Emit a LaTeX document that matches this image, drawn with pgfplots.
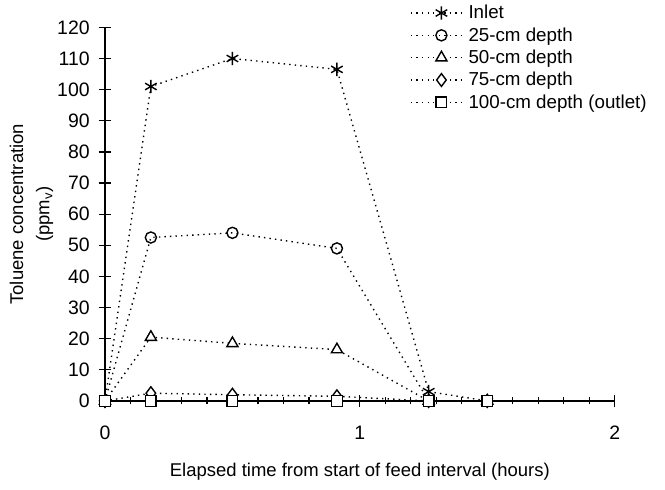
\documentclass[border=0pt]{standalone}
\usepackage{fontspec}
\setmainfont{Liberation Sans}
\usepackage{pgfplots}
\pgfplotsset{compat=1.18}

\begin{document}
\begin{tikzpicture}
\useasboundingbox (-75.6pt,-63.4pt) rectangle (403.2pt,288.7pt);
\begin{axis}[
  at={(0,0)}, anchor=origin,
  scale only axis, width=367pt, height=269pt,
  xmin=0, xmax=2, ymin=0, ymax=120,
  axis x line*=bottom, axis y line*=left,
  axis line style={line width=1.2pt},
  xtick={0,1,2}, minor x tick num=9,
  ytick={0,10,...,120},
  tick align=center,
  major tick length=9pt, minor tick length=5pt,
  every tick/.style={black, line width=0.9pt},
  /pgf/number format/assume math mode=true,
  tick label style={font=\fontsize{14}{16}\selectfont},
  xticklabel style={yshift=-10pt},
  yticklabel style={xshift=-3pt},
  xlabel={Elapsed time from start of feed interval (hours)},
  ylabel={Toluene concentration\\(ppm\textsubscript{v})},
  label style={font=\fontsize{13.3}{19}\selectfont, align=center},
  xlabel style={yshift=-10pt},
  ylabel style={yshift=-4pt},
  clip=false,
  every axis plot/.append style={black, line width=1pt, dash pattern=on 1pt off 3pt,
    mark size=4pt, mark options={solid, fill=white, line width=1pt}},
  legend style={draw=none, fill=none, at={(0.59,1.075)}, anchor=north west,
    font=\fontsize{13.5}{15}\selectfont, row sep=0.8pt,
    legend cell align=left},
  legend image code/.code={
    \draw[#1, mark repeat=2, mark phase=2] plot coordinates {(0pt,0pt) (22pt,0pt) (39pt,0pt)};
  },
]
\addplot[mark=asterisk, mark size=4.8pt] coordinates {(0,0) (0.18,101) (0.5,110) (0.91,106.5) (1.27,3) (1.5,0)};
\addlegendentry{Inlet}
\addplot[mark=o] coordinates {(0,0) (0.18,52.5) (0.5,54) (0.91,49) (1.27,0) (1.5,0)};
\addlegendentry{25-cm depth}
\addplot[mark=triangle*, mark size=4.6pt] coordinates {(0,0) (0.18,20.5) (0.5,18.5) (0.91,16.5) (1.27,0) (1.5,0)};
\addlegendentry{50-cm depth}
\addplot[mark=diamond*, mark size=4.6pt] coordinates {(0,0) (0.18,2.5) (0.5,2) (0.91,1.5) (1.27,0) (1.5,0)};
\addlegendentry{75-cm depth}
\addplot[mark=square*, mark size=3.8pt] coordinates {(0,0) (0.18,0) (0.5,0) (0.91,0) (1.27,0) (1.5,0)};
\addlegendentry{100-cm depth (outlet)}
\end{axis}
\end{tikzpicture}
\end{document}
